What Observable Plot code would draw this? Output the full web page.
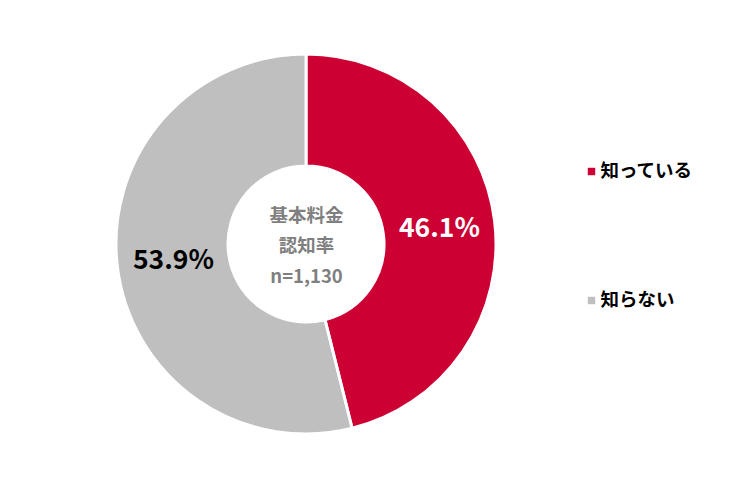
<!DOCTYPE html>
<html><head><meta charset="utf-8">
<script src="https://cdn.jsdelivr.net/npm/d3@7"></script>
<script src="https://cdn.jsdelivr.net/npm/@observablehq/plot@0.6"></script>
<style>
html,body{margin:0;padding:0;background:#fff;}
</style>
</head><body>
<div id="chart"></div>
<script>
const categories = ["知っている", "知らない"];
const values = [46.1, 53.9];
const colors = ["#CC0033", "#BFBFBF"];
const centerLabel = "基本料金\n認知率\nn=1,130";

const font = "'Noto Sans CJK JP', 'Noto Sans', sans-serif";
const rInner = 78 / 190;

const pie = d3.pie().sort(null).value(d => d.value)(categories.map((c, i) => ({category: c, value: values[i], color: colors[i]})));
const arcData = d3.arc().innerRadius(rInner).outerRadius(1);
const slices = pie.map(p => {
  const [cx, cy] = arcData.centroid(p);
  return {...p, cx, cy: -cy, label: p.data.value.toFixed(1) + "%"};
});

function donut(index, scales, values, dimensions, context) {
  const x = scales.x, y = scales.y;
  const ox = x(0), oy = y(0), R = x(1) - x(0);
  const arc = d3.arc().innerRadius(R * rInner).outerRadius(R);
  const g = d3.create("svg:g").attr("transform", `translate(${ox},${oy})`);
  g.selectAll("path").data(slices).join("path")
    .attr("d", arc)
    .attr("fill", d => d.data.color)
    .attr("stroke", "#fff")
    .attr("stroke-width", 3)
    .attr("stroke-linejoin", "miter");
  return g.node();
}

const legendY = [171, 300];
const legendMarks = categories.flatMap((c, i) => [
  Plot.dot([c], {frameAnchor: "top-left", dx: 591, dy: legendY[i], symbol: "square", r: 4.2,
    fill: colors[i], stroke: "none"}),
  Plot.text([c], {frameAnchor: "top-left", dx: 600, dy: legendY[i], text: d => d,
    textAnchor: "start", lineAnchor: "middle", fontSize: 18.5, fontWeight: "bold", fill: "#000", fontFamily: font})
]);

const chart = Plot.plot({
  width: 750,
  height: 487,
  margin: 0,
  style: {fontFamily: font, background: "#fff"},
  x: {domain: [-1, 1], range: [116, 496], axis: null},
  y: {domain: [-1, 1], range: [434, 54], axis: null},
  marks: [
    donut,
    Plot.text(slices, {x: "cx", y: "cy", text: "label", fill: (d, i) => i === 0 ? "#fff" : "#000",
      fontSize: 26.5, fontWeight: "bold", fontFamily: font}),
    Plot.text([centerLabel], {x: 0, y: 0, dy: -2, text: d => d, fill: "#7F7F7F", fontSize: 18.5, fontWeight: "bold",
      lineHeight: 1.65, fontFamily: font}),
    ...legendMarks
  ]
});
document.getElementById("chart").appendChild(chart);
</script>
</body></html>
